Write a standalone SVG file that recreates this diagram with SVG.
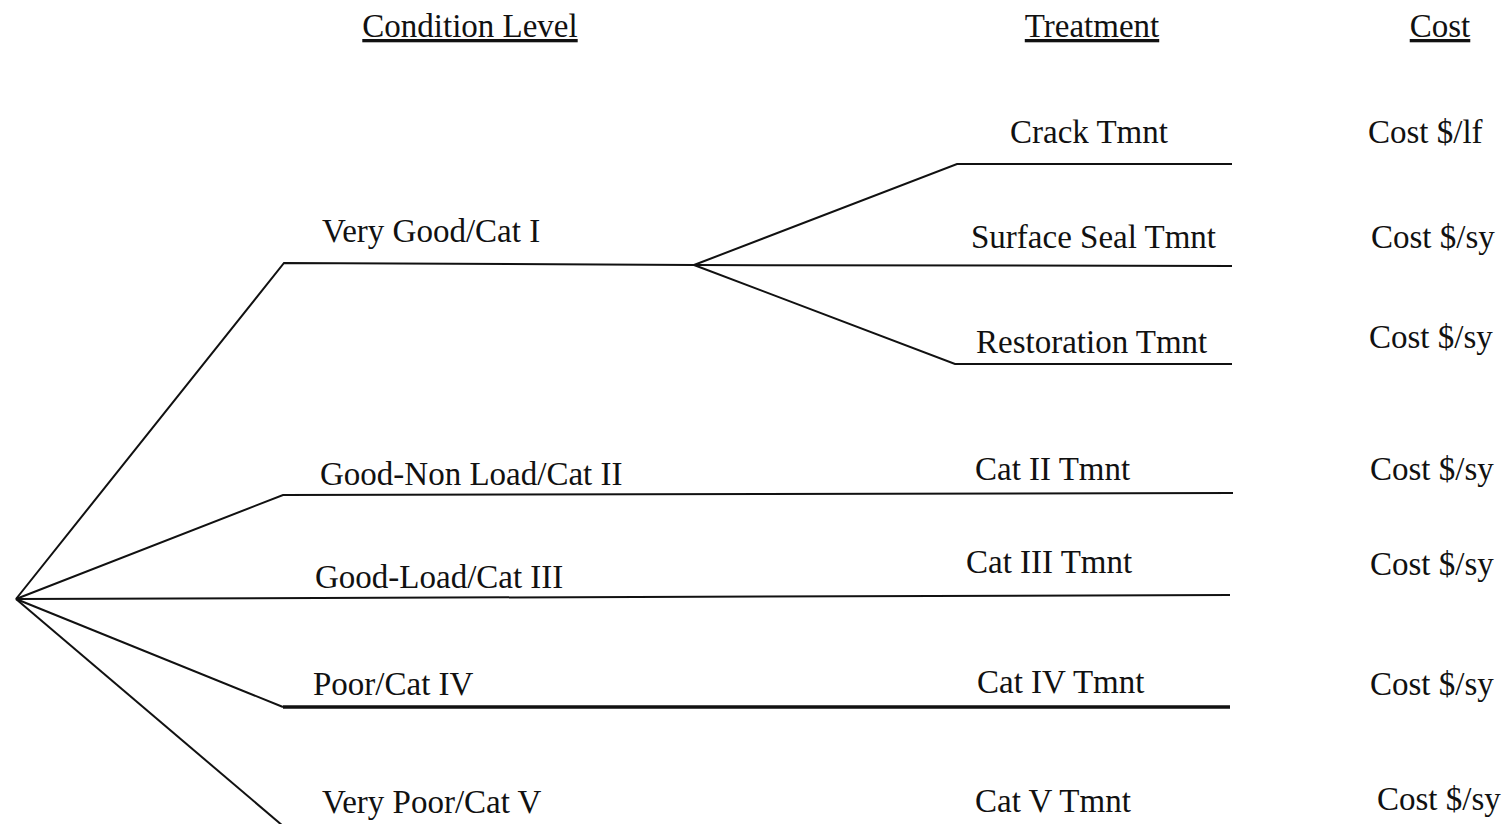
<svg xmlns="http://www.w3.org/2000/svg" width="1506" height="824" viewBox="0 0 1506 824">
<style>
text{font-family:"Liberation Serif","Times New Roman",serif;font-size:33px;fill:#111}
.hdr{text-decoration:underline}
.ln{fill:none;stroke:#111;stroke-width:2;stroke-linejoin:miter}
.thick{stroke-width:3.5}
</style>
<rect width="1506" height="824" fill="#fff"/>
<g id="headers">
<text class="hdr" x="470" y="37" text-anchor="middle">Condition Level</text>
<text class="hdr" x="1092" y="37" text-anchor="middle">Treatment</text>
<text class="hdr" x="1440" y="37" text-anchor="middle">Cost</text>
</g>
<g id="connectors">
<polyline class="ln" points="16,599 284,263 694,265"/>
<polyline class="ln" points="694,265 957,164 1232,164"/>
<polyline class="ln" points="694,265 1232,266"/>
<polyline class="ln" points="694,265 955,364 1232,364"/>
<polyline class="ln" points="16,599 283,495 1233,493"/>
<polyline class="ln" points="16,599 1230,595"/>
<polyline class="ln" points="16,599 283,707"/>
<line class="ln thick" x1="283" y1="707" x2="1230" y2="707"/>
<polyline class="ln" points="16,599 283,826"/>
</g>
<g id="cond-cat1"><text x="322" y="242">Very Good/Cat I</text></g>
<g id="cond-cat2"><text x="320" y="485">Good-Non Load/Cat II</text></g>
<g id="cond-cat3"><text x="315" y="588">Good-Load/Cat III</text></g>
<g id="cond-cat4"><text x="313" y="695">Poor/Cat IV</text></g>
<g id="cond-cat5"><text x="322" y="813">Very Poor/Cat V</text></g>
<g id="tmnt-crack"><text x="1010" y="143">Crack Tmnt</text></g>
<g id="tmnt-surface"><text x="971" y="248">Surface Seal Tmnt</text></g>
<g id="tmnt-restoration"><text x="976" y="353">Restoration Tmnt</text></g>
<g id="tmnt-cat2"><text x="975" y="480">Cat II Tmnt</text></g>
<g id="tmnt-cat3"><text x="966" y="573">Cat III Tmnt</text></g>
<g id="tmnt-cat4"><text x="977" y="693">Cat IV Tmnt</text></g>
<g id="tmnt-cat5"><text x="975" y="812">Cat V Tmnt</text></g>
<g id="cost-crack"><text x="1368" y="143">Cost $/lf</text></g>
<g id="cost-surface"><text x="1371" y="248">Cost $/sy</text></g>
<g id="cost-restoration"><text x="1369" y="348">Cost $/sy</text></g>
<g id="cost-cat2"><text x="1370" y="480">Cost $/sy</text></g>
<g id="cost-cat3"><text x="1370" y="575">Cost $/sy</text></g>
<g id="cost-cat4"><text x="1370" y="695">Cost $/sy</text></g>
<g id="cost-cat5"><text x="1377" y="810">Cost $/sy</text></g>
</svg>
